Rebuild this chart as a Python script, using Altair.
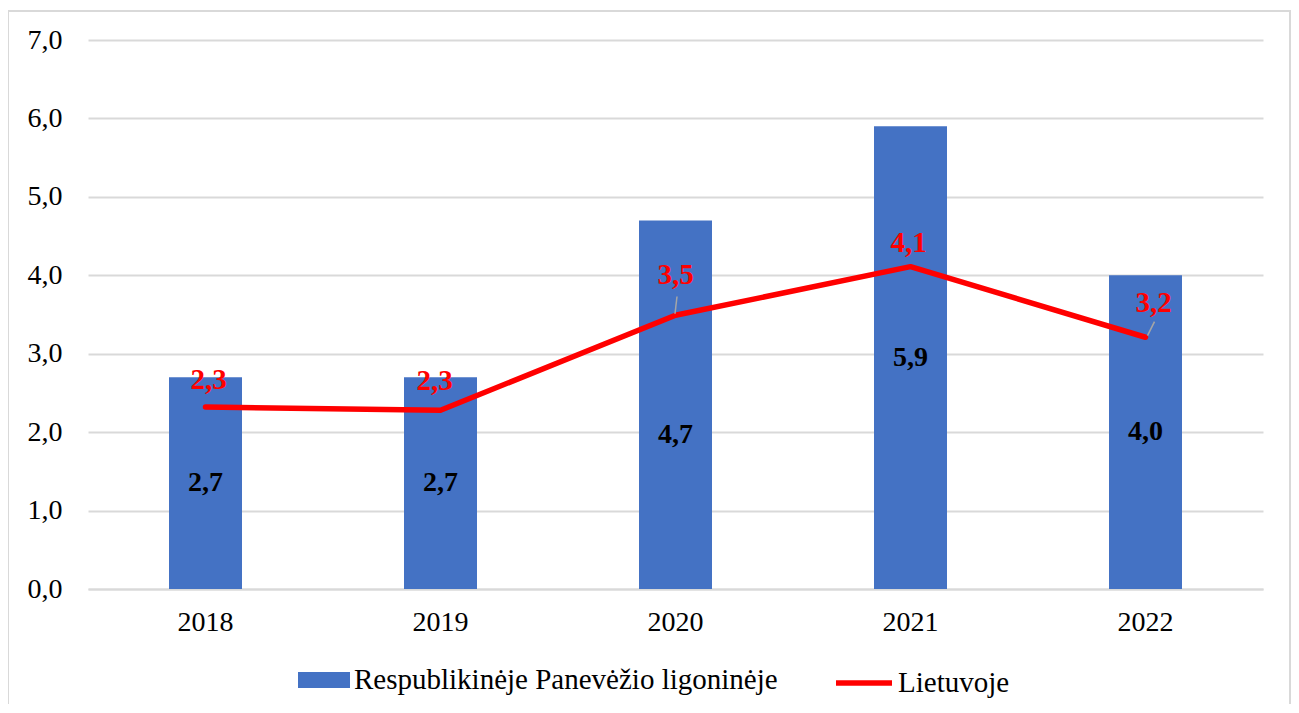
import altair as alt
import pandas as pd

years = ["2018", "2019", "2020", "2021", "2022"]
hospital = [2.7, 2.7, 4.7, 5.9, 4.0]
lithuania = [2.32, 2.28, 3.49, 4.11, 3.21]
y_ticks = [0, 1, 2, 3, 4, 5, 6, 7]

bar_name = "Respublikinėje Panevėžio ligoninėje"
line_name = "Lietuvoje"

df = pd.DataFrame({"year": years, "hospital": hospital, "lithuania": lithuania})
df["hosp_mid"] = df["hospital"] / 2
df["bar_series"] = bar_name
df["line_series"] = line_name

FONT = "Liberation Serif"
BLUE = "#4472C4"
RED = "#FF0000"
W, H = 1175, 549
FS = 28
LFS = 29

x_enc = alt.X("year:N", title=None, sort=years,
              scale=alt.Scale(paddingInner=0, paddingOuter=0),
              axis=alt.Axis(labelAngle=0, labelFontSize=FS, labelColor="#000000",
                            labelFont=FONT, labelPadding=19, ticks=False,
                            domainColor="#d9d9d9", domainWidth=2))
y_scale = alt.Scale(domain=[0, 7], nice=False)

base = alt.Chart(df)

frame = alt.Chart(alt.Data(values=[{"f": 1}])).mark_rect(
    fill=None, stroke="#d9d9d9", strokeWidth=2
).encode(x=alt.value(-80), x2=alt.value(W + 27), y=alt.value(-29), y2=alt.value(H + 140))

bars = base.mark_bar(size=73).encode(
    x=x_enc,
    y=alt.Y("hospital:Q", scale=y_scale, title=None,
            axis=alt.Axis(values=y_ticks, labelExpr="replace(format(datum.value, '.1f'), '.', ',')",
                          labelFontSize=FS, labelColor="#000000", labelFont=FONT,
                          labelPadding=26, ticks=False, domain=False,
                          gridColor="#d9d9d9", gridWidth=2)),
    fill=alt.Fill("bar_series:N",
                  scale=alt.Scale(domain=[bar_name], range=[BLUE]),
                  legend=alt.Legend(title=None, orient="none", legendX=210, legendY=614,
                                    symbolType="M-1,-0.31H1V0.31H-1Z", symbolSize=2704,
                                    symbolStrokeWidth=0, labelFontSize=LFS, labelFont=FONT,
                                    labelColor="#000000", labelOffset=4, labelLimit=0,
                                    padding=0)),
)


def lbl_calc(field):
    return f"replace(format(datum.{field}, '.1f'), '.', ',')"


def bar_label(flt, dy):
    return base.transform_filter(flt).transform_calculate(
        lbl=lbl_calc("hospital")
    ).mark_text(
        fontSize=FS, fontWeight="bold", font=FONT, color="#000000", baseline="middle", dy=dy
    ).encode(
        x=alt.X("year:N", sort=years),
        y=alt.Y("hosp_mid:Q", scale=y_scale),
        text="lbl:N",
    )


bar_labels_main = bar_label(alt.datum.year != "2020", 0)
bar_label_2020 = bar_label(alt.datum.year == "2020", 30)

line = base.mark_line(strokeWidth=5.5, strokeJoin="round", strokeCap="round").encode(
    x=alt.X("year:N", sort=years),
    y=alt.Y("lithuania:Q", scale=y_scale),
    stroke=alt.Stroke("line_series:N",
                      scale=alt.Scale(domain=[line_name], range=[RED]),
                      legend=alt.Legend(title=None, orient="none", legendX=745, legendY=612,
                                        symbolType="stroke", symbolSize=3136,
                                        symbolStrokeWidth=5.5, labelFontSize=LFS, labelFont=FONT,
                                        labelColor="#000000", labelOffset=3, padding=0)),
)


def leader(year, lo, hi, xo, x2o):
    return base.transform_filter(alt.datum.year == year).transform_calculate(
        y1=f"datum.lithuania + {lo}", y2=f"datum.lithuania + {hi}"
    ).mark_rule(color="#a6a6a6", strokeWidth=1.5, xOffset=xo, x2Offset=x2o).encode(
        x=alt.X("year:N", sort=years), x2="year:N",
        y=alt.Y("y1:Q", scale=y_scale), y2="y2:Q",
    )


leaders = leader("2020", 0.02, 0.24, -0.5, 1.5)
leaders2 = leader("2022", 0.02, 0.2, 2, 9)


def red_label(year, dx, dy):
    return base.transform_filter(alt.datum.year == year).transform_calculate(
        lbl=lbl_calc("lithuania")
    ).mark_text(
        fontSize=29, fontWeight="bold", font=FONT, color=RED, baseline="middle", dx=dx, dy=dy
    ).encode(
        x=alt.X("year:N", sort=years),
        y=alt.Y("lithuania:Q", scale=y_scale),
        text="lbl:N",
    )


red_labels = [
    red_label("2018", 3, -27),
    red_label("2019", -6, -29),
    red_label("2020", 0, -40),
    red_label("2021", -2, -24),
    red_label("2022", 8, -34),
]

chart = alt.layer(
    frame, bars, bar_labels_main, bar_label_2020, line, leaders, leaders2, *red_labels
).resolve_scale(fill="independent", stroke="independent").properties(
    width=W, height=H,
    autosize=alt.AutoSizeParams(type="none"),
    padding={"left": 80, "top": 32, "right": 28, "bottom": 115},
).configure(font=FONT).configure_view(stroke=None).configure_legend(
    labelFont=FONT, labelFontSize=LFS, labelColor="#000000"
).configure_axis(labelFont=FONT)

chart.save("out.html", embed_options={"renderer": "svg", "actions": False})
